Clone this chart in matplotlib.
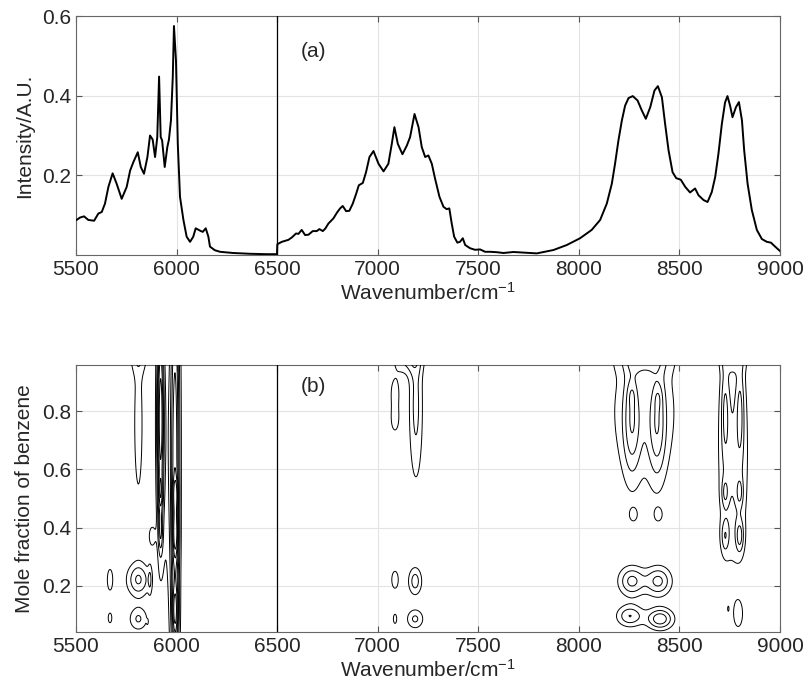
import numpy as np
import matplotlib
matplotlib.use('Agg')
import matplotlib.pyplot as plt

plt.rcParams['font.family'] = ['Liberation Sans', 'DejaVu Sans']
plt.rcParams['mathtext.fontset'] = 'custom'
plt.rcParams['mathtext.rm'] = 'Liberation Sans'
plt.rcParams['mathtext.it'] = 'Liberation Sans:italic'

# spectrum
wavenumber = [5500, 5503, 5520, 5540, 5561, 5590, 5611, 5628, 5644, 5661, 5682, 5702,
              5727, 5752, 5769, 5785, 5807, 5822, 5838, 5855, 5868, 5881, 5893, 5904,
              5913, 5921, 5928, 5941, 5954, 5962, 5972, 5981, 5987, 5997, 6006, 6017,
              6034, 6050, 6067, 6083, 6095, 6117, 6130, 6145, 6158, 6166, 6190, 6216,
              6281, 6366, 6450, 6499,
              6501, 6523, 6556, 6573, 6594, 6606, 6622, 6639, 6656, 6677, 6697, 6710,
              6727, 6739, 6755, 6780, 6797, 6813, 6826, 6843, 6859, 6876, 6893, 6906,
              6926, 6942, 6959, 6979, 7004, 7029, 7053, 7070, 7083, 7100, 7123, 7145,
              7161, 7183, 7203, 7219, 7236, 7252, 7269, 7285, 7307, 7327, 7343, 7356,
              7368, 7380, 7396, 7409, 7423, 7435, 7459, 7484, 7509, 7534, 7559, 7592,
              7625, 7675, 7724, 7791, 7874, 7940, 8006, 8064, 8106, 8139, 8164, 8180,
              8197, 8214, 8230, 8247, 8268, 8292, 8313, 8333, 8355, 8376, 8393, 8413,
              8429, 8446, 8466, 8484, 8507, 8529, 8553, 8578, 8595, 8620, 8640, 8661,
              8678, 8694, 8711, 8727, 8739, 8752, 8764, 8781, 8796, 8811, 8822, 8839,
              8860, 8885, 8910, 8935, 8955, 8976, 9000]
intensity = [0.088, 0.088, 0.094, 0.097, 0.088, 0.086, 0.104, 0.108, 0.129, 0.171, 0.205, 0.179,
             0.141, 0.171, 0.212, 0.233, 0.258, 0.221, 0.204, 0.246, 0.300, 0.290, 0.246, 0.296,
             0.448, 0.296, 0.288, 0.221, 0.271, 0.290, 0.338, 0.446, 0.575, 0.488, 0.279, 0.146,
             0.088, 0.046, 0.033, 0.046, 0.067, 0.061, 0.058, 0.067, 0.046, 0.021, 0.012, 0.008,
             0.005, 0.003, 0.002, 0.002,
             0.027, 0.033, 0.038, 0.044, 0.054, 0.053, 0.063, 0.050, 0.051, 0.060, 0.060, 0.065,
             0.060, 0.066, 0.079, 0.092, 0.106, 0.117, 0.123, 0.110, 0.111, 0.129, 0.154, 0.175,
             0.181, 0.208, 0.246, 0.261, 0.229, 0.210, 0.229, 0.279, 0.321, 0.279, 0.253, 0.275,
             0.296, 0.354, 0.321, 0.271, 0.246, 0.250, 0.229, 0.192, 0.146, 0.121, 0.115, 0.117,
             0.079, 0.046, 0.031, 0.033, 0.042, 0.025, 0.017, 0.013, 0.014, 0.008, 0.008, 0.007,
             0.005, 0.0075, 0.006, 0.004, 0.0125, 0.025, 0.042, 0.063, 0.088, 0.129, 0.179, 0.229,
             0.288, 0.338, 0.375, 0.394, 0.399, 0.388, 0.363, 0.342, 0.371, 0.413, 0.424, 0.396,
             0.329, 0.263, 0.208, 0.193, 0.189, 0.171, 0.157, 0.167, 0.150, 0.138, 0.133, 0.158,
             0.196, 0.254, 0.329, 0.383, 0.399, 0.375, 0.346, 0.371, 0.384, 0.338, 0.263, 0.179,
             0.113, 0.063, 0.040, 0.033, 0.031, 0.021, 0.010]

# contour blobs: centre, width, height, strength
blob_x = [5810, 5812, 5668,
          5955, 5920, 5920, 5920, 5993, 5995, 5995, 5993, 5878,
          5669, 5669, 5810, 5868, 5810, 5855,
          7190, 7150, 7086, 7086, 7086, 7086, 7186, 7186,
          8325, 8263, 8390, 8325, 8263, 8395, 8271, 8395, 8263, 8395, 8254, 8404,
          8768, 8727, 8802, 8727, 8800, 8727, 8800, 8765, 8793, 8743]
blob_y = [0.76, 0.99, 0.985,
          0.70, 0.78, 0.52, 0.38, 0.60, 0.515, 0.38, 0.11, 0.37,
          0.22, 0.088, 0.22, 0.22, 0.085, 0.075,
          0.82, 0.99, 0.87, 0.77, 0.22, 0.085, 0.215, 0.085,
          0.80, 0.76, 0.75, 0.99, 0.86, 0.85, 0.443, 0.443, 0.215, 0.215, 0.095, 0.085,
          0.64, 0.80, 0.80, 0.52, 0.52, 0.37, 0.37, 0.98, 0.10, 0.12]
blob_sx = [22, 35, 8,
           35, 12, 8, 8, 16, 9, 10, 10, 14,
           16, 12, 40, 7, 33, 3,
           25, 50, 22, 22, 22, 13, 24, 30,
           130, 30, 30, 80, 15, 15, 18, 18, 45, 45, 45, 45,
           55, 14, 14, 12, 12, 14, 14, 40, 20, 3]
blob_sy = [0.256, 0.04, 0.02,
           0.40, 0.25, 0.04, 0.05, 0.6, 0.04, 0.06, 0.06, 0.03,
           0.043, 0.022, 0.04, 0.04, 0.028, 0.006,
           0.19, 0.04, 0.045, 0.045, 0.04, 0.025, 0.034, 0.024,
           0.18, 0.13, 0.13, 0.04, 0.03, 0.03, 0.02, 0.02, 0.035, 0.035, 0.025, 0.025,
           0.28, 0.12, 0.12, 0.035, 0.035, 0.04, 0.04, 0.03, 0.04, 0.008]
blob_amp = [1.4, 1.4, 1.2,
            1.5, 6.0, 2.0, 2.0, 5.0, 2.5, 3.0, 3.0, 1.5,
            1.4, 1.3, 3.05, 1.3, 2.1, 1.05,
            2.3, 2.5, 1.3, 1.3, 1.3, 1.2, 2.5, 2.2,
            1.8, 2.6, 2.6, 3.0, 0.8, 0.8, 1.2, 1.2, 3.3, 3.3, 3.0, 3.8,
            2.2, 2.0, 2.0, 1.8, 1.8, 2.0, 2.5, 2.0, 1.3, 1.1]
levels = [1, 2, 3, 4, 5, 6, 7]

gx = np.arange(5500, 9001, 2.0)
gy = np.arange(0.0, 1.08, 0.004)
X, Y = np.meshgrid(gx, gy)
Z = np.zeros_like(X)
for x0, y0, sx, sy, a in zip(blob_x, blob_y, blob_sx, blob_sy, blob_amp):
    Z += a * np.exp(-0.5 * ((X - x0) / sx) ** 2 - 0.5 * ((Y - y0) / sy) ** 2)

fig = plt.figure(figsize=(8.07, 6.98), dpi=100)
ax1 = fig.add_axes([0.0942, 0.6347, 0.8723, 0.3423])
ax2 = fig.add_axes([0.0942, 0.0946, 0.8723, 0.3824])

txt = '#262626'
for ax in (ax1, ax2):
    ax.set_xlim(5500, 9000)
    ax.set_xticks([5500, 6000, 6500, 7000, 7500, 8000, 8500, 9000])
    ax.grid(True, color='#e3e3e3', lw=0.8)
    ax.set_axisbelow(True)
    ax.tick_params(direction='in', top=True, right=True, length=4, width=0.8,
                   labelsize=15, colors='#555555', labelcolor=txt)
    for s in ax.spines.values():
        s.set_color('#666666')
        s.set_linewidth(0.8)
    ax.axvline(6500, color='black', lw=0.9, zorder=3)
    ax.set_xlabel('Wavenumber/cm$^{-1}$', fontsize=15, color=txt, labelpad=2)

ax1.plot(wavenumber, intensity, color='black', lw=1.4, zorder=4)
ax1.set_ylim(0, 0.6)
ax1.set_yticks([0.2, 0.4, 0.6])
ax1.set_ylabel('Intensity/A.U.', fontsize=15, color=txt, labelpad=6)
ax1.text(6680, 0.51, '(a)', fontsize=15, color=txt, ha='center', va='center')

ax2.contour(X, Y, Z, levels=levels, colors='black', linewidths=0.7, zorder=4)
ax2.set_ylim(0.04, 0.96)
ax2.set_yticks([0.2, 0.4, 0.6, 0.8])
ax2.set_ylabel('Mole fraction of benzene', fontsize=15, color=txt, labelpad=6)
ax2.text(6680, 0.885, '(b)', fontsize=15, color=txt, ha='center', va='center')

fig.savefig('out.png', dpi=100)
